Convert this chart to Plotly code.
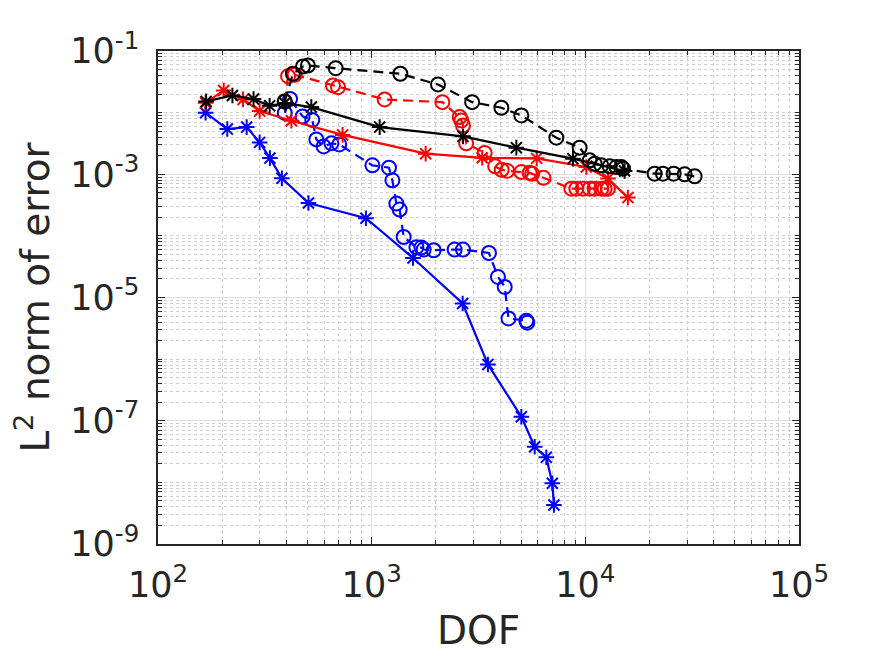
import numpy as np
import plotly.graph_objects as go

# values (DOF vs L2 error)
blue_star_dof = [167, 211, 260, 299, 334, 380, 506, 940, 1561, 2666, 3500, 5017, 5794, 6568, 7008, 7130]
blue_star_err = [9.96e-3, 5.41e-3, 5.82e-3, 3.29e-3, 1.83e-3, 8.58e-4, 3.41e-4, 1.93e-4,
                 4.38e-5, 8.0e-6, 8.2e-7, 1.16e-7, 3.79e-8, 2.55e-8, 9.66e-9, 4.3e-9]

blue_circ_dof = [392, 415, 475, 527, 551, 596, 648, 705, 1008, 1205, 1250, 1305, 1352, 1412,
                 1619, 1709, 1751, 1950, 2445, 2675, 3539, 3899, 4194, 4369, 5296, 5350]
blue_circ_err = [9.89e-3, 1.667e-2, 8.68e-3, 7.62e-3, 3.68e-3, 2.83e-3, 3.17e-3, 3.05e-3,
                 1.394e-3, 1.279e-3, 7.97e-4, 3.34e-4, 2.67e-4, 9.6e-5, 6.53e-5, 6.46e-5,
                 6.0e-5, 5.84e-5, 6.0e-5, 6.0e-5, 5.28e-5, 2.16e-5, 1.485e-5, 4.57e-6,
                 4.21e-6, 3.9e-6]

red_star_dof = [167, 203, 250, 299, 421, 731, 1789, 3290, 5918, 10110, 12760, 15820]
red_star_err = [1.44e-2, 2.29e-2, 1.64e-2, 1.06e-2, 7.39e-3, 4.35e-3, 2.16e-3, 1.85e-3,
                1.81e-3, 1.31e-3, 8.5e-4, 4.18e-4]

red_circ_dof = [392, 406, 436, 659, 696, 1150, 2142, 2581, 2629, 2675, 2769, 3379, 3784, 4059,
                4307, 5017, 5488, 5638, 6368, 8600, 9076, 9746, 10474, 11053, 11883, 12310, 12760]
red_circ_err = [1.519e-2, 3.905e-2, 4.115e-2, 2.76e-2, 2.59e-2, 1.636e-2, 1.48e-2, 8.46e-3,
                7.48e-3, 6.2e-3, 3.17e-3, 2.22e-3, 1.343e-3, 1.178e-3, 1.135e-3, 1.086e-3,
                1.053e-3, 1.015e-3, 8.75e-4, 5.84e-4, 5.84e-4, 5.84e-4, 5.84e-4, 5.84e-4,
                5.84e-4, 5.84e-4, 5.84e-4]

black_star_dof = [168, 223, 280, 333, 392, 522, 1090, 2675, 4755, 8750, 15270]
black_star_err = [1.52e-2, 1.90e-2, 1.66e-2, 1.29e-2, 1.43e-2, 1.23e-2, 5.82e-3, 4.12e-3,
                  2.70e-3, 1.79e-3, 1.13e-3]

black_circ_dof = [392, 428, 477, 503, 679, 1362, 2043, 2953, 4046, 5017, 7316, 9404, 10474,
                  11053, 11883, 12994, 13970, 14740, 15000, 21100, 23080, 25900, 29150, 32480]
black_circ_err = [1.519e-2, 4.27e-2, 5.61e-2, 5.82e-2, 5.26e-2, 4.27e-2, 2.865e-2, 1.48e-2,
                  1.201e-2, 9.01e-3, 3.92e-3, 2.70e-3, 1.68e-3, 1.485e-3, 1.394e-3, 1.343e-3,
                  1.308e-3, 1.308e-3, 1.232e-3, 1.022e-3, 1.022e-3, 1.022e-3, 9.96e-4, 9.25e-4]

x_ticks = [1e2, 1e3, 1e4, 1e5]
x_ticktext = ["10<sup>2</sup>", "10<sup>3</sup>", "10<sup>4</sup>", "10<sup>5</sup>"]
y_ticks = [1e-9, 1e-7, 1e-5, 1e-3, 1e-1]
y_ticktext = ["10<sup>-9</sup>", "10<sup>-7</sup>", "10<sup>-5</sup>", "10<sup>-3</sup>", "10<sup>-1</sup>"]

txt = "#262626"
font = "DejaVu Sans"

# minor grid positions (1..9 per decade, minus the labelled ones)
x_minor = [m * 10.0**k for k in range(2, 5) for m in range(2, 10)]
y_minor = [m * 10.0**k for k in range(-9, -1) for m in range(1, 10)
           if not (m == 1 and k % 2 == 1)]


def series(x, y, color, dashed, symbol):
    return go.Scatter(
        x=x, y=y, mode="lines+markers",
        line=dict(color=color, width=2.2, dash="10px,6px" if dashed else "solid"),
        marker=dict(symbol=symbol, size=14 if dashed else 13, color=color,
                    line=dict(color=color, width=2)),
        showlegend=False,
    )


fig = go.Figure()
fig.add_trace(series(blue_star_dof, blue_star_err, "#0000ff", False, "asterisk-open"))
fig.add_trace(series(blue_circ_dof, blue_circ_err, "#0000ff", True, "circle-open"))
fig.add_trace(series(red_star_dof, red_star_err, "#ff0000", False, "asterisk-open"))
fig.add_trace(series(red_circ_dof, red_circ_err, "#ff0000", True, "circle-open"))
fig.add_trace(series(black_star_dof, black_star_err, "#000000", False, "asterisk-open"))
fig.add_trace(series(black_circ_dof, black_circ_err, "#000000", True, "circle-open"))

axis_common = dict(
    type="log", showline=True, linecolor="#262626", linewidth=1.5, mirror="allticks",
    ticks="inside", ticklen=7, tickcolor="#262626", tickwidth=1,
    showgrid=True, gridcolor="#dedede", gridwidth=1, zeroline=False,
    tickfont=dict(family=font, size=35, color=txt),
    minor=dict(ticks="inside", ticklen=4, tickcolor="#262626", showgrid=True,
               gridcolor="#cfcfcf", gridwidth=1, griddash="dot"),
)

fig.update_xaxes(
    **axis_common, range=[2, 5], tickvals=x_ticks, ticktext=x_ticktext,
    ticklabelstandoff=9,
    title=dict(text="DOF", font=dict(family=font, size=39, color=txt), standoff=13),
)
fig.update_xaxes(minor_tickvals=x_minor)
fig.update_yaxes(
    **axis_common, range=[-9, -1], tickvals=y_ticks, ticktext=y_ticktext,
    ticklabelstandoff=10,
    title=dict(text="L<sup>2</sup> norm of error", font=dict(family=font, size=39, color=txt),
               standoff=14),
)
fig.update_yaxes(minor_tickvals=y_minor)

# the page body adds an 8px offset, so the figure is 8px smaller and margins shifted
fig.update_layout(
    width=876, height=655,
    margin=dict(l=150, r=85, t=43, b=119, autoexpand=False),
    paper_bgcolor="white", plot_bgcolor="white",
    font=dict(family=font, color=txt),
)

fig.write_html("out.html")
